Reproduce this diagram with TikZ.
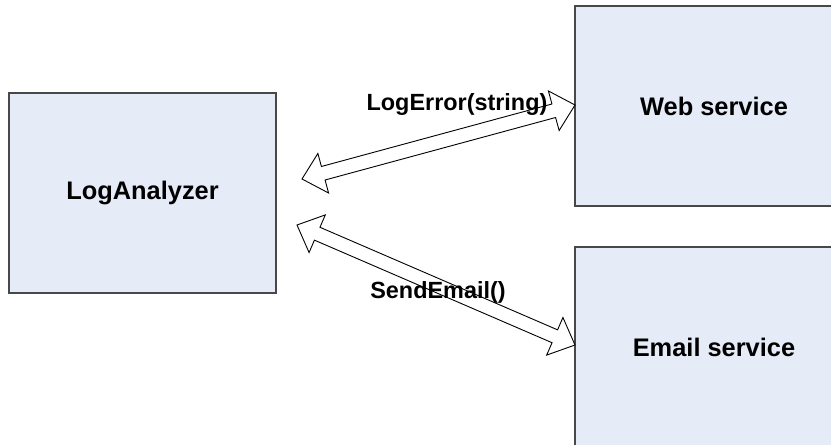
\documentclass[tikz,border=0pt]{standalone}
\usepackage{fontspec}
\setmainfont{Liberation Sans}
\usetikzlibrary{calc}
\definecolor{boxfill}{RGB}{230,236,247}
\definecolor{boxline}{RGB}{72,72,72}
\tikzset{
  svcbox/.style={draw=boxline,fill=boxfill,line width=1.2bp,inner sep=0pt,
    minimum width=#1,minimum height=200bp,font=\fontsize{25.5}{30}\selectfont\bfseries},
  msglabel/.style={inner sep=0pt,font=\fontsize{23.5}{27}\selectfont\bfseries},
  hollowarrow/.style={draw=black,fill=white,line width=0.9bp,line join=miter,to path={
    (\tikztostart)
    -- ($(\tikztostart)!22bp!(\tikztotarget)!20.5bp!90:(\tikztotarget)$)
    -- ($(\tikztostart)!22bp!(\tikztotarget)!7bp!90:(\tikztotarget)$)
    -- ($(\tikztotarget)!22bp!(\tikztostart)!7bp!-90:(\tikztostart)$)
    -- ($(\tikztotarget)!22bp!(\tikztostart)!20.5bp!-90:(\tikztostart)$)
    -- (\tikztotarget)
    -- ($(\tikztotarget)!22bp!(\tikztostart)!20.5bp!90:(\tikztostart)$)
    -- ($(\tikztotarget)!22bp!(\tikztostart)!7bp!90:(\tikztostart)$)
    -- ($(\tikztostart)!22bp!(\tikztotarget)!7bp!-90:(\tikztotarget)$)
    -- ($(\tikztostart)!22bp!(\tikztotarget)!20.5bp!-90:(\tikztotarget)$)
    -- cycle}}
}
\begin{document}
\begin{tikzpicture}
        \def\x{1bp}
        \def\y{-1bp}
        \useasboundingbox (0,0) rectangle (831*\x, 445*\y);
        \clip (0,0) rectangle (831*\x, 445*\y);
        \node[svcbox=267bp] (A1_0) at (142.5*\x, 193*\y) {LogAnalyzer};
        \node[svcbox=278bp] (A0_1) at (714*\x, 106*\y) {Web service};
        \node[svcbox=278bp] (A2_1) at (714*\x, 347*\y) {Email service};
        \coordinate (T0_0) at (302*\x, 179*\y);
        \coordinate (T0_1) at (575*\x, 105*\y);
        \coordinate (T1_0) at (297*\x, 225*\y);
        \coordinate (T1_1) at (575*\x, 345*\y);
        \path (T0_0) edge [hollowarrow] (T0_1);
        \path (T1_0) edge [hollowarrow] (T1_1);
        \node[msglabel] (M0) at (457*\x, 105*\y) {LogError(string)};
        \node[msglabel] (M1) at (438*\x, 292*\y) {SendEmail()};
      \end{tikzpicture}
\end{document}
